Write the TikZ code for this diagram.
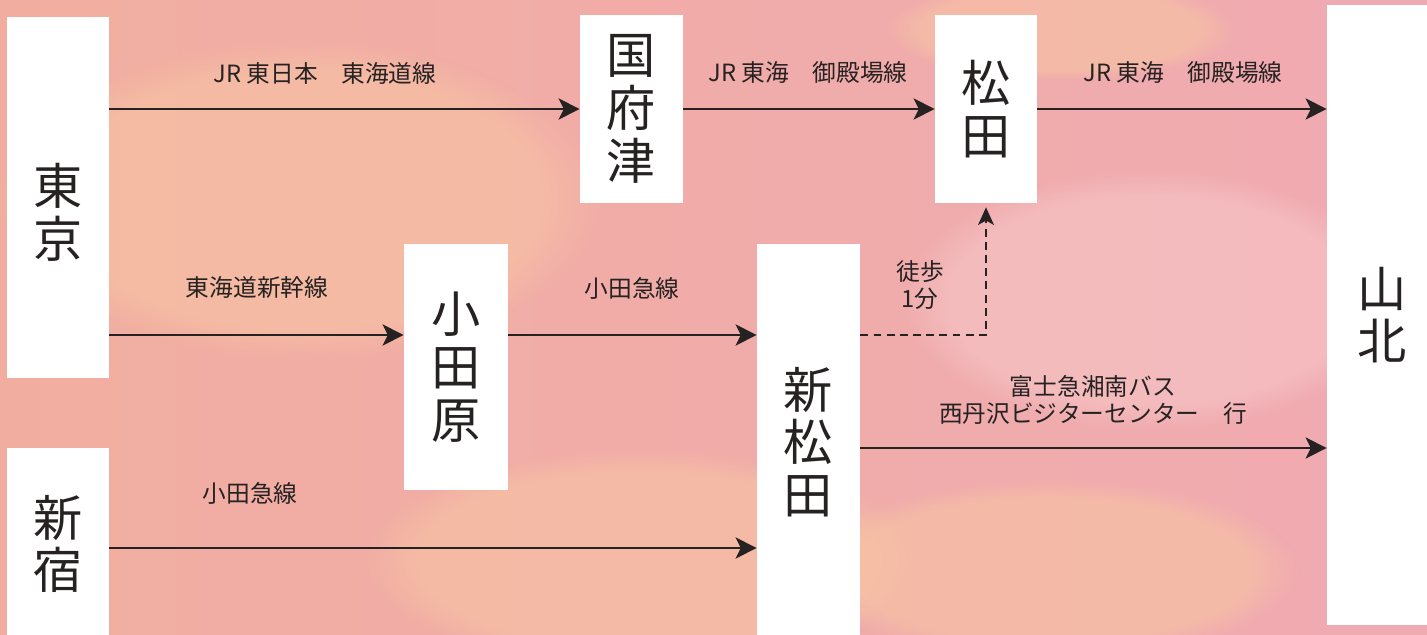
\documentclass[tikz,border=0pt]{standalone}
\usepackage{fontspec}
\setmainfont{Noto Sans CJK JP}
\usetikzlibrary{arrows.meta,fadings}

\definecolor{bgsalmon}{RGB}{241,174,160}
\definecolor{bgpeach}{RGB}{248,196,164}
\definecolor{bgpink}{RGB}{240,170,178}
\definecolor{bglight}{RGB}{247,198,200}
\definecolor{ink}{RGB}{38,34,34}

\tikzset{
	station/.style={fill=white, inner sep=0pt, align=center, text=ink, font=\fontsize{28}{30}\selectfont},
	route/.style={draw=ink, line width=1.5pt, -{Stealth[length=12pt,width=12pt,inset=3pt]}},
	walkway/.style={draw=ink, line width=1.2pt, dash pattern=on 4.5pt off 3pt, -{Stealth[length=10pt,width=9pt,inset=2.5pt]}},
	routename/.style={text=ink, align=center, font=\fontsize{13.5}{15}\selectfont},
	wash/.style={path fading=circle with fuzzy edge 20 percent, opacity=0.6}
}

\begin{document}
\begin{tikzpicture}[x=0.02cm, y=-0.02cm]
		\useasboundingbox (0,0) rectangle (1427,635);
		\shade[left color=bgsalmon, right color=bgpink] (0,0) rectangle (1427,635);
		\fill[bgpeach, wash] (300,200) ellipse (6cm and 3.2cm);
		\fill[bgpeach, wash] (640,560) ellipse (5.5cm and 2.2cm);
		\fill[bglight, wash] (1150,300) ellipse (5cm and 2.6cm);
		\fill[bgpeach, wash] (1050,570) ellipse (5cm and 1.8cm);
		\fill[bgpeach, wash] (1060,30) ellipse (3.5cm and 1cm);
		
		\node[station, minimum width=2.04cm, minimum height=7.22cm] (tokyo) at (58,197.5) {\rule{0pt}{40pt}東\\京};
		\node[station, minimum width=2.04cm, minimum height=3.84cm] (shinjuku) at (58,544) {新\\宿};
		\node[station, minimum width=2.06cm, minimum height=3.76cm] (kozu) at (631.5,109) {国\\府\\津};
		\node[station, minimum width=2.08cm, minimum height=4.92cm] (odawara) at (456,367) {小\\田\\原};
		\node[station, minimum width=2.04cm, minimum height=3.76cm] (matsuda) at (986,109) {松\\田};
		\node[station, minimum width=2.06cm, minimum height=7.92cm] (shinmatsuda) at (808.5,442) {新\\松\\田};
		\node[station, minimum width=2.2cm, minimum height=12.4cm] (yamakita) at (1382,315) {山\\北};
		
		\coordinate (rowB) at (0,335);
		\coordinate (rowC) at (0,548);
		\coordinate (rowD) at (0,448);
		\coordinate (bend) at (matsuda.south |- rowB);
		
		\draw[route] (tokyo.east |- kozu.west) -- (kozu.west);
		\draw[route] (kozu.east) -- (matsuda.west);
		\draw[route] (matsuda.east) -- (yamakita.west |- matsuda.east);
		\draw[route] (tokyo.east |- rowB) -- (odawara.west |- rowB);
		\draw[route] (odawara.east |- rowB) -- (shinmatsuda.west |- rowB);
		\draw[route] (shinjuku.east |- rowC) -- (shinmatsuda.west |- rowC);
		\draw[route] (shinmatsuda.east |- rowD) -- (yamakita.west |- rowD);
		\draw[walkway] (shinmatsuda.east |- rowB) -- (bend) -- ([yshift=-0.08cm]matsuda.south);
		
		\node[routename] (tokaido) at (325,73) {JR 東日本　東海道線};
		\node[routename] (gotembaA) at (808,73) {JR 東海　御殿場線};
		\node[routename] (gotembaB) at (1183,73) {JR 東海　御殿場線};
		\node[routename] (shinkansen) at (257,288) {東海道新幹線};
		\node[routename] (odakyuA) at (632,288) {小田急線};
		\node[routename] (odakyuB) at (250,493) {小田急線};
		\node[routename] (walktime) at (920,285) {徒歩\\1分};
		\node[routename] (bus) at (1093,400) {富士急湘南バス\\西丹沢ビジターセンター　行};
	\end{tikzpicture}
\end{document}
